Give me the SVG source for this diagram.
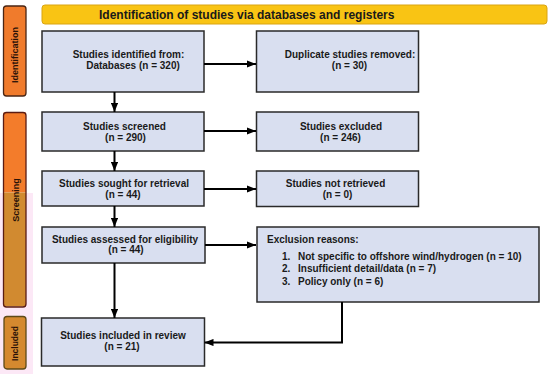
<svg xmlns="http://www.w3.org/2000/svg" width="550" height="374" viewBox="0 0 550 374">
<defs>
<style>
.box{fill:#d9dff0;stroke:#2a2a2a;stroke-width:1.5}
.t{font-family:"Liberation Sans",Arial,sans-serif;font-weight:bold;font-size:10px;fill:#1a1a1a}
.c{text-anchor:middle}
.side{font-family:"Liberation Sans",Arial,sans-serif;font-weight:bold;font-size:9px;fill:#2a1208;text-anchor:middle}
.ln{fill:none;stroke:#000;stroke-width:2}
</style>
<marker id="ah" viewBox="0 0 10 8" refX="10" refY="4" markerWidth="4.5" markerHeight="3.6" markerUnits="strokeWidth" orient="auto">
<path d="M0,0 L10,4 L0,8 z" fill="#000"/>
</marker>
</defs>
<rect width="550" height="374" fill="#fff"/>
<rect x="0" y="193" width="33" height="181" fill="#fce8f6"/>

<g id="title">
<rect x="42" y="5" width="505" height="19" rx="3" fill="#f9c414" stroke="#d9a412" stroke-width="1"/>
<text x="99" y="19" class="t" style="font-size:12px">Identification of studies via databases and registers</text>
</g>

<g id="bar-identification">
<rect x="3.5" y="6" width="22.5" height="90" rx="3" fill="#f07b2c" stroke="#4a2614" stroke-width="1.3"/>
<text class="side" transform="translate(17.5,55) rotate(-90)">Identification</text>
</g>
<g id="bar-screening">
<rect x="3.5" y="112.5" width="22.5" height="80" fill="#f37c2b"/>
<rect x="3.5" y="192.5" width="22.5" height="114" fill="#d18a30"/>
<rect x="3.5" y="112.5" width="22.5" height="194.5" rx="3" fill="none" stroke="#5a1c14" stroke-width="1.3"/>
<text class="side" transform="translate(18.5,200) rotate(-90)">Screening</text>
</g>
<g id="bar-included">
<rect x="4" y="316.5" width="22" height="52.5" rx="3" fill="#d5892f" stroke="#5e4a18" stroke-width="1.3"/>
<text class="side" style="font-size:8.5px" transform="translate(18,343.5) rotate(-90)">Included</text>
</g>

<g id="identified">
<rect class="box" x="42" y="31" width="162" height="61"/>
<text class="t c" x="128.5" y="57.5">Studies identified from:</text>
<text class="t c" x="133" y="68.5">Databases (n = 320)</text>
</g>
<g id="duplicates">
<rect class="box" x="256.5" y="31" width="162" height="61"/>
<text class="t c" x="350" y="58">Duplicate studies removed:</text>
<text class="t c" x="349.5" y="68.5">(n = 30)</text>
</g>
<g id="screened">
<rect class="box" x="42" y="112" width="162" height="39"/>
<text class="t c" x="124.5" y="129.5">Studies screened</text>
<text class="t c" x="125.5" y="140.5">(n = 290)</text>
</g>
<g id="excluded">
<rect class="box" x="256.5" y="112" width="162" height="39"/>
<text class="t c" x="341" y="129.5">Studies excluded</text>
<text class="t c" x="340.5" y="140.5">(n = 246)</text>
</g>
<g id="sought">
<rect class="box" x="42" y="171" width="162" height="35"/>
<text class="t c" x="124" y="186.5">Studies sought for retrieval</text>
<text class="t c" x="123" y="197.5">(n = 44)</text>
</g>
<g id="not-retrieved">
<rect class="box" x="256.5" y="171" width="162" height="35.5"/>
<text class="t c" x="335.5" y="186.5">Studies not retrieved</text>
<text class="t c" x="337.5" y="197.5">(n = 0)</text>
</g>
<g id="assessed">
<rect class="box" x="42" y="227" width="163" height="36"/>
<text class="t c" x="125" y="242.5">Studies assessed for eligibility</text>
<text class="t c" x="126" y="253">(n = 44)</text>
</g>
<g id="exclusion-reasons">
<rect class="box" x="257" y="227" width="282" height="75"/>
<text class="t" x="267" y="242.5">Exclusion reasons:</text>
<text class="t" x="282" y="259.5">1.</text>
<text class="t" x="298" y="259.5">Not specific to offshore wind/hydrogen (n = 10)</text>
<text class="t" x="282" y="272">2.</text>
<text class="t" x="298" y="272">Insufficient detail/data (n = 7)</text>
<text class="t" x="282" y="284.5">3.</text>
<text class="t" x="298" y="284.5">Policy only (n = 6)</text>
</g>
<g id="included">
<rect class="box" x="41.5" y="318" width="163" height="48"/>
<text class="t c" x="123" y="338.5">Studies included in review</text>
<text class="t c" x="122" y="349.5">(n = 21)</text>
</g>

<g id="connectors">
<line class="ln" x1="204" y1="64" x2="256" y2="64" marker-end="url(#ah)"/>
<line class="ln" x1="204" y1="131" x2="256" y2="131" marker-end="url(#ah)"/>
<line class="ln" x1="204" y1="189" x2="256" y2="189" marker-end="url(#ah)"/>
<line class="ln" x1="205" y1="245" x2="256" y2="245" marker-end="url(#ah)"/>
<line class="ln" x1="114.5" y1="92" x2="114.5" y2="112" marker-end="url(#ah)"/>
<line class="ln" x1="114.5" y1="151" x2="114.5" y2="171" marker-end="url(#ah)"/>
<line class="ln" x1="114.5" y1="206" x2="114.5" y2="227" marker-end="url(#ah)"/>
<line class="ln" x1="114.5" y1="263" x2="114.5" y2="318" marker-end="url(#ah)"/>
<polyline class="ln" points="342,302 342,342.5 204.5,342.5" marker-end="url(#ah)"/>
</g>
</svg>
